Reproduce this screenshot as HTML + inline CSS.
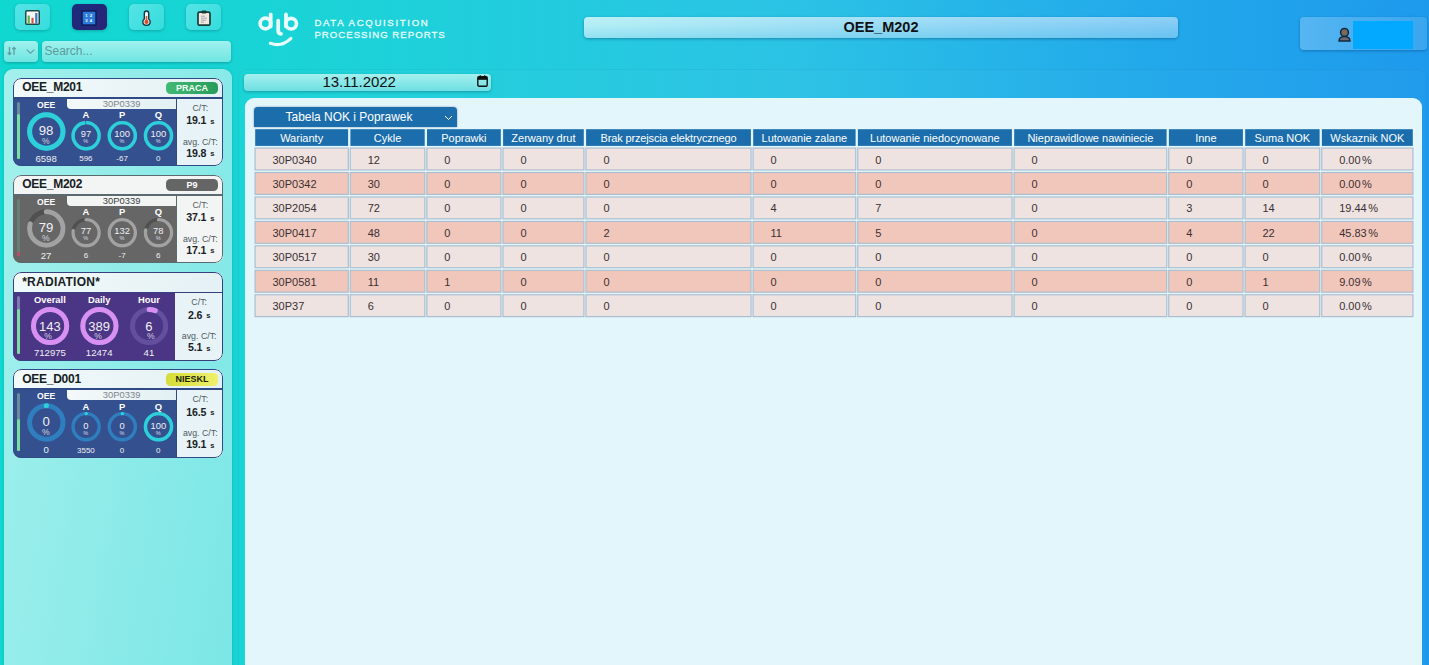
<!DOCTYPE html>
<html><head><meta charset="utf-8"><title>OEE</title>
<style>
*{box-sizing:border-box;margin:0;padding:0}
html,body{width:1429px;height:665px;overflow:hidden}
body{font-family:"Liberation Sans",sans-serif;position:relative;background:linear-gradient(90deg,#10d8d0 0%,#1cd2d8 25%,#2bc3e5 55%,#22a9ea 80%,#1e9aec 100%);color:#222}
.abs{position:absolute}
.btn{position:absolute;top:4px;width:34.6px;height:25.8px;border-radius:5px;background:linear-gradient(135deg,#56e4e6,#35dcdc);box-shadow:0 1px 3px rgba(0,80,90,.35)}
.btn.act{background:linear-gradient(135deg,#1a2c7c,#2b2476)}
.btn svg{position:absolute}
.inp{position:absolute;border-radius:4px;background:linear-gradient(180deg,#a0f1ee,#6fe6e2);box-shadow:0 1px 3px rgba(0,80,90,.4)}
.card{position:absolute;left:12.8px;width:210.5px;height:88.6px;border-radius:8px;overflow:hidden;background:linear-gradient(90deg,#f2f9fa,#e4f1f4)}
.card .bdr{position:absolute;left:0;top:0;width:100%;height:100%;border:1.8px solid #2f4a85;border-radius:8px}
.card .sep{position:absolute;left:0;top:19.2px;width:100%;height:1.8px;background:#2f4a85}
.card .nm{position:absolute;left:9.4px;top:1.8px;font-weight:bold;font-size:12px;line-height:16px;color:#162124;letter-spacing:-0.25px;white-space:nowrap}
.card .st{position:absolute;left:153.3px;top:4.1px;width:52px;height:12.5px;border-radius:4.5px;color:#fff;font-weight:bold;font-size:9px;line-height:13.4px;text-align:center;letter-spacing:0}
.card .bd{position:absolute;left:0;top:19.2px;width:165px;height:69.4px}
.card .rt{position:absolute;left:163.5px;top:19.2px;width:47px;height:69.4px;border-left:1.8px solid #2f4a85;background:#e7f3f6}
.lb{position:absolute;color:#fff;font-weight:bold;text-align:center;transform:translate(-50%,-50%);white-space:nowrap;line-height:1}
.ct{position:absolute;color:#f0f0f4;text-align:center;transform:translate(-50%,-50%);white-space:nowrap;line-height:1}
.var{position:absolute;left:54.2px;top:21px;width:109.3px;height:10.3px;background:linear-gradient(90deg,#f4f9fa,#e3f0f3);border-radius:0 0 0 4px;color:#808488;font-size:9.4px;line-height:10.6px;text-align:center}
.rt .k{position:absolute;left:0;width:100%;font-size:8.8px;color:#505a62;line-height:1;text-align:center;transform:translateY(-50%);white-space:nowrap}
.rt .v{position:absolute;left:0;width:100%;font-size:10.6px;font-weight:bold;color:#1a2125;line-height:1;text-align:center;transform:translateY(-50%);white-space:nowrap;letter-spacing:-.1px}
.rt .v small{font-size:7.5px;margin-left:4px;position:relative;top:-.3px}
.th{position:absolute;top:129.2px;height:16.7px;color:#fff;font-size:11px;line-height:18.2px;text-align:center;white-space:nowrap}
.td{word-spacing:-1.6px;position:absolute;height:23px;font-size:11px;line-height:25.2px;padding-left:18px;color:#3a3033;white-space:nowrap}
</style></head><body>

<div class="btn" style="left:15px"><svg style="left:10px;top:6px" width="15" height="15" viewBox="0 0 15 15"><rect x=".75" y=".75" width="13.5" height="13.5" rx="1" fill="#fbfbfb" stroke="#1d4a44" stroke-width="1.5"/><rect x="2.6" y="5.5" width="2.2" height="8" fill="#58b04a"/><rect x="6.4" y="7.8" width="2.2" height="5.7" fill="#d8553a"/><rect x="10.2" y="3" width="2.2" height="10.5" fill="#3c78c8"/></svg></div>
<div class="btn act" style="left:72px"><svg style="left:9px;top:6px" width="16" height="16" viewBox="0 0 16 16"><rect x=".9" y=".9" width="14.2" height="14.2" rx="1" fill="#2b7bd8" stroke="#0f1f60" stroke-width="1.8"/><g fill="#fff" font-family='"Liberation Sans",sans-serif' font-weight="bold" font-size="4.2"><text x="4.2" y="7">1</text><text x="8.8" y="7">2</text><text x="4.2" y="12.3">3</text><text x="8.8" y="12.3">4</text></g></svg></div>
<div class="btn" style="left:129px"><svg style="left:13px;top:5.5px" width="9" height="16" viewBox="0 0 9 16"><path d="M4.5 1 C3 1 2.3 2 2.3 3.2 L2.3 9 C1.3 9.8 .8 10.8 .8 11.8 C.8 13.9 2.4 15.3 4.5 15.3 C6.6 15.3 8.2 13.9 8.2 11.8 C8.2 10.8 7.7 9.8 6.7 9 L6.7 3.2 C6.7 2 6 1 4.5 1 Z" fill="#f3f6f8" stroke="#123c46" stroke-width="1.4"/><rect x="3.7" y="6" width="1.6" height="6" fill="#d94f2c"/><circle cx="4.5" cy="11.9" r="2.1" fill="#d94f2c"/></svg></div>
<div class="btn" style="left:186px"><svg style="left:10.5px;top:5.5px" width="14" height="16" viewBox="0 0 14 16"><rect x="1" y="2.2" width="12" height="13" rx="1.5" fill="#f3e8de" stroke="#183c38" stroke-width="1.7"/><rect x="4.5" y=".6" width="5" height="2.8" rx="1" fill="#183c38"/><g stroke="#9aa2b4" stroke-width=".9"><line x1="4" y1="6.2" x2="8" y2="6.2"/><line x1="4" y1="8.2" x2="10" y2="8.2"/><line x1="4" y1="10.2" x2="9" y2="10.2"/><line x1="4" y1="12.2" x2="7" y2="12.2"/></g></svg></div>
<div class="inp" style="left:4px;top:41px;width:34px;height:21px"><svg class="abs" style="left:3px;top:5px" width="10" height="10" viewBox="0 0 10 10" fill="none" stroke="#5f9ea0" stroke-width="1.3"><path d="M2.5 1 V8.5 M.8 6.8 L2.5 8.6 L4.2 6.8"/><path d="M7 9 V1.5 M5.3 3.2 L7 1.4 L8.7 3.2"/></svg><svg class="abs" style="left:21.5px;top:8px" width="9" height="5" viewBox="0 0 9 5" fill="none" stroke="#5f9ea0" stroke-width="1.1"><path d="M.7 .7 L4.5 4.2 L8.3 .7"/></svg></div>
<div class="inp" style="left:42px;top:41px;width:189px;height:21px;color:#5d9a9c;font-size:12px;line-height:21px;padding-left:2.5px">Search...</div>
<svg class="abs" style="left:250px;top:5px" width="60" height="50" viewBox="250 5 60 50" fill="none" stroke="#e9fdfd" stroke-width="3.7" stroke-linecap="round"><circle cx="265.4" cy="23.5" r="5.3"/><path d="M270.7 14.3 V26.5"/><path d="M278.2 20.5 V30.5 Q278.2 33.6 281 33.8"/><path d="M286 14.3 V26.5"/><circle cx="291.2" cy="23.7" r="5.3"/><path d="M270.3 43.3 Q281.5 47.6 291 38.4" stroke-width="3.1"/></svg>
<div class="abs" style="left:314.4px;top:17.3px;color:#e6fcfc;-webkit-text-stroke:.3px #e6fcfc;font-size:9.6px;line-height:11.4px;letter-spacing:1.68px;white-space:nowrap">DATA ACQUISITION<br><span style="letter-spacing:1.03px">PROCESSING REPORTS</span></div>
<div class="abs" style="left:584.2px;top:17px;width:593.6px;height:21px;border-radius:4px;background:linear-gradient(180deg,rgba(255,255,255,.13) 0%,rgba(255,255,255,0) 40%,rgba(10,170,225,.2) 100%),linear-gradient(90deg,#b3eef5,#7fc9f5);box-shadow:0 1px 3px rgba(0,60,100,.45);text-align:center;font-weight:bold;font-size:14.5px;line-height:20px;color:#111">OEE_M202</div>
<div class="abs" style="left:1300px;top:17px;width:127px;height:33px;border-radius:4px;background:linear-gradient(90deg,#56b6f2,#3ba6ee);box-shadow:0 1px 3px rgba(0,50,110,.4)"><div class="abs" style="left:53px;top:4px;width:60px;height:28px;background:#02a9fe"></div><svg class="abs" style="left:38px;top:10px" width="13" height="15" viewBox="0 0 13 15"><path d="M1 14 C1 10.5 3 9.6 6.5 9.6 C10 9.6 12 10.5 12 14 Z" fill="#6e6a70" stroke="#12283e" stroke-width="1.4"/><circle cx="6.5" cy="5.4" r="3.9" fill="#7a6a5e" stroke="#12283e" stroke-width="1.5"/></svg></div>
<div class="abs" style="left:4px;top:69px;width:228px;height:610px;border-radius:9px;background:linear-gradient(100deg,#a3f0ec,#7be7e6);box-shadow:0 0 3px rgba(0,90,100,.25)"></div>
<div class="card" style="top:77.7px"><div class="nm" style="letter-spacing:-0.25px">OEE_M201</div><div class="st" style="background:linear-gradient(90deg,#41ba75,#289b59);color:#f2fff4">PRACA</div><div class="bd" style="background:#35508e"></div><div class="abs" style="left:4.3px;top:24px;width:3.1px;height:57.6px;border-radius:1.5px;background:#6b8a9e"></div><div class="abs" style="left:4.3px;top:36.5px;width:3.1px;height:45.1px;border-radius:1.5px;background:#78e09c"></div><div class="var" style="color:#808488">30P0339</div><svg class="abs" style="left:0;top:0" width="211" height="89" viewBox="0 0 211 89"><circle cx="33.3" cy="53.5" r="16.7" fill="none" stroke="#2f7fc0" stroke-width="5"/><circle cx="33.3" cy="53.5" r="16.7" fill="none" stroke="#2dd0d8" stroke-width="5"/><circle cx="73.1" cy="57.7" r="13.05" fill="none" stroke="#2f7fc0" stroke-width="3.4"/><circle cx="73.1" cy="57.7" r="13.05" fill="none" stroke="#2dd0d8" stroke-width="3.4" stroke-linecap="butt" stroke-dasharray="80.52 82.00" transform="rotate(-90 73.1 57.7)"/><circle cx="109.3" cy="57.7" r="13.05" fill="none" stroke="#2f7fc0" stroke-width="3.4"/><circle cx="109.3" cy="57.7" r="13.05" fill="none" stroke="#2dd0d8" stroke-width="3.4"/><circle cx="145.5" cy="57.7" r="13.05" fill="none" stroke="#2f7fc0" stroke-width="3.4"/><circle cx="145.5" cy="57.7" r="13.05" fill="none" stroke="#2dd0d8" stroke-width="3.4"/></svg><div class="lb" style="left:33.3px;top:27px;font-size:8.6px">OEE</div><div class="ct" style="left:33.3px;top:53.3px;font-size:13.2px">98</div><div class="ct" style="left:33.0px;top:62.9px;font-size:8.6px;color:#cfd2dc">%</div><div class="ct" style="left:33.3px;top:80.9px;font-size:9.6px">6598</div><div class="lb" style="left:73.1px;top:37.7px;font-size:9.4px">A</div><div class="ct" style="left:73.1px;top:56.5px;font-size:9.4px">97</div><div class="ct" style="left:72.89999999999999px;top:64.4px;font-size:5.5px;color:#d8dbe4">%</div><div class="ct" style="left:73.1px;top:81.5px;font-size:8px">596</div><div class="lb" style="left:109.3px;top:37.7px;font-size:9.4px">P</div><div class="ct" style="left:109.3px;top:56.5px;font-size:9.4px">100</div><div class="ct" style="left:109.1px;top:64.4px;font-size:5.5px;color:#d8dbe4">%</div><div class="ct" style="left:109.3px;top:81.5px;font-size:8px">-67</div><div class="lb" style="left:145.5px;top:37.7px;font-size:9.4px">Q</div><div class="ct" style="left:145.5px;top:56.5px;font-size:9.4px">100</div><div class="ct" style="left:145.3px;top:64.4px;font-size:5.5px;color:#d8dbe4">%</div><div class="ct" style="left:145.5px;top:81.5px;font-size:8px">0</div><div class="rt" style="border-left-color:#2f4a85"><div class="k" style="top:10.8px">C/T:</div><div class="v" style="top:23.2px">19.1<small>s</small></div><div class="k" style="top:44.7px">avg. C/T:</div><div class="v" style="top:55.8px">19.8<small>s</small></div></div><div class="sep" style="background:#2f4a85"></div><div class="bdr" style="border-color:#2f4a85"></div></div>
<div class="card" style="top:174.7px;background:#f3f4f4"><div class="nm" style="letter-spacing:-0.25px">OEE_M202</div><div class="st" style="background:#656565;color:#fff">P9</div><div class="bd" style="background:#666666"></div><div class="abs" style="left:4.3px;top:24px;width:3.1px;height:57.6px;border-radius:1.5px;background:#667f75"></div><div class="abs" style="left:4.3px;top:24px;width:3.1px;height:57.6px;border-radius:1.5px;background:#667f75"></div><div class="abs" style="left:4.1px;top:77.8px;width:3.6px;height:3.6px;border-radius:1.8px;background:#c8456a"></div><div class="var" style="color:#3c3c3c;background:#f3f4f4">30P0339</div><svg class="abs" style="left:0;top:0" width="211" height="89" viewBox="0 0 211 89"><circle cx="33.3" cy="53.5" r="16.7" fill="none" stroke="#505050" stroke-width="5"/><circle cx="33.3" cy="53.5" r="16.7" fill="none" stroke="#a2a2a2" stroke-width="5" stroke-linecap="round" stroke-dasharray="82.89 104.93" transform="rotate(-90 33.3 53.5)"/><circle cx="73.1" cy="57.7" r="13.05" fill="none" stroke="#505050" stroke-width="3.4"/><circle cx="73.1" cy="57.7" r="13.05" fill="none" stroke="#a2a2a2" stroke-width="3.4" stroke-linecap="round" stroke-dasharray="63.14 82.00" transform="rotate(-90 73.1 57.7)"/><circle cx="109.3" cy="57.7" r="13.05" fill="none" stroke="#505050" stroke-width="3.4"/><circle cx="109.3" cy="57.7" r="13.05" fill="none" stroke="#a2a2a2" stroke-width="3.4"/><circle cx="145.5" cy="57.7" r="13.05" fill="none" stroke="#505050" stroke-width="3.4"/><circle cx="145.5" cy="57.7" r="13.05" fill="none" stroke="#a2a2a2" stroke-width="3.4" stroke-linecap="round" stroke-dasharray="63.96 82.00" transform="rotate(-90 145.5 57.7)"/></svg><div class="lb" style="left:33.3px;top:27px;font-size:8.6px">OEE</div><div class="ct" style="left:33.3px;top:53.3px;font-size:13.2px">79</div><div class="ct" style="left:33.0px;top:62.9px;font-size:8.6px;color:#cfd2dc">%</div><div class="ct" style="left:33.3px;top:80.9px;font-size:9.6px">27</div><div class="lb" style="left:73.1px;top:37.7px;font-size:9.4px">A</div><div class="ct" style="left:73.1px;top:56.5px;font-size:9.4px">77</div><div class="ct" style="left:72.89999999999999px;top:64.4px;font-size:5.5px;color:#d8dbe4">%</div><div class="ct" style="left:73.1px;top:81.5px;font-size:8px">6</div><div class="lb" style="left:109.3px;top:37.7px;font-size:9.4px">P</div><div class="ct" style="left:109.3px;top:56.5px;font-size:9.4px">132</div><div class="ct" style="left:109.1px;top:64.4px;font-size:5.5px;color:#d8dbe4">%</div><div class="ct" style="left:109.3px;top:81.5px;font-size:8px">-7</div><div class="lb" style="left:145.5px;top:37.7px;font-size:9.4px">Q</div><div class="ct" style="left:145.5px;top:56.5px;font-size:9.4px">78</div><div class="ct" style="left:145.3px;top:64.4px;font-size:5.5px;color:#d8dbe4">%</div><div class="ct" style="left:145.5px;top:81.5px;font-size:8px">6</div><div class="rt" style="border-left-color:#5a6a6e;background:#f3f4f4"><div class="k" style="top:10.8px">C/T:</div><div class="v" style="top:23.2px">37.1<small>s</small></div><div class="k" style="top:44.7px">avg. C/T:</div><div class="v" style="top:55.8px">17.1<small>s</small></div></div><div class="sep" style="background:#5a6a6e"></div><div class="bdr" style="border-color:#5a6a6e"></div></div>
<div class="card" style="top:272px"><div class="nm" style="letter-spacing:0.26px">*RADIATION*</div><div class="bd" style="background:#4b3585;top:19.5px"></div><div class="abs" style="left:4.3px;top:24px;width:3.1px;height:57.6px;border-radius:1.5px;background:#7d7ab0"></div><div class="abs" style="left:4.3px;top:36.5px;width:3.1px;height:45.1px;border-radius:1.5px;background:#78e09c"></div><svg class="abs" style="left:0;top:0" width="211" height="89" viewBox="0 0 211 89"><circle cx="37.1" cy="54" r="16.6" fill="none" stroke="#62509f" stroke-width="5"/><circle cx="37.1" cy="54" r="16.6" fill="none" stroke="#d891f3" stroke-width="5"/><circle cx="86.4" cy="54" r="16.6" fill="none" stroke="#62509f" stroke-width="5"/><circle cx="86.4" cy="54" r="16.6" fill="none" stroke="#d891f3" stroke-width="5"/><circle cx="136.1" cy="54" r="16.6" fill="none" stroke="#62509f" stroke-width="5"/><circle cx="136.1" cy="54" r="16.6" fill="none" stroke="#d891f3" stroke-width="5" stroke-linecap="round" stroke-dasharray="6.26 104.30" transform="rotate(-90 136.1 54)"/></svg><div class="lb" style="left:37.1px;top:27.8px;font-size:9.4px">Overall</div><div class="ct" style="left:37.1px;top:53.8px;font-size:13px">143</div><div class="ct" style="left:35.300000000000004px;top:63.6px;font-size:8.6px;color:#d3cbe3">%</div><div class="ct" style="left:37.1px;top:81.2px;font-size:9.6px">712975</div><div class="lb" style="left:86.4px;top:27.8px;font-size:9.4px">Daily</div><div class="ct" style="left:86.4px;top:53.8px;font-size:13px">389</div><div class="ct" style="left:85.2px;top:63.6px;font-size:8.6px;color:#d3cbe3">%</div><div class="ct" style="left:86.4px;top:81.2px;font-size:9.6px">12474</div><div class="lb" style="left:136.1px;top:27.8px;font-size:9.4px">Hour</div><div class="ct" style="left:136.1px;top:53.8px;font-size:13px">6</div><div class="ct" style="left:138.1px;top:63.6px;font-size:8.6px;color:#d3cbe3">%</div><div class="ct" style="left:136.1px;top:81.2px;font-size:9.6px">41</div><div class="rt" style="left:162.3px;width:48.2px;border-left:none;top:19.5px"><div class="k" style="top:10.8px">C/T:</div><div class="v" style="top:23.2px">2.6<small>s</small></div><div class="k" style="top:44.7px">avg. C/T:</div><div class="v" style="top:55.8px">5.1<small>s</small></div></div><div class="sep" style="background:#35407e;top:19.5px;height:1.6px"></div><div class="bdr" style="border-color:#35407e"></div></div>
<div class="card" style="top:369.2px"><div class="nm" style="letter-spacing:-0.25px">OEE_D001</div><div class="st" style="background:linear-gradient(90deg,#d5dd38,#f0f06c);color:#20240c">NIESKL</div><div class="bd" style="background:#35508e"></div><div class="abs" style="left:4.3px;top:24px;width:3.1px;height:57.6px;border-radius:1.5px;background:#6b8a9e"></div><div class="abs" style="left:4.3px;top:50px;width:3.1px;height:31.6px;border-radius:1.5px;background:#78e09c"></div><div class="var" style="color:#808488">30P0339</div><svg class="abs" style="left:0;top:0" width="211" height="89" viewBox="0 0 211 89"><circle cx="33.3" cy="53.5" r="16.7" fill="none" stroke="#2f7fc0" stroke-width="5"/><circle cx="33.3" cy="53.5" r="16.7" fill="none" stroke="#2dd0d8" stroke-width="5" stroke-linecap="round" stroke-dasharray="0.21 104.93" transform="rotate(-90 33.3 53.5)"/><circle cx="73.1" cy="57.7" r="13.05" fill="none" stroke="#2f7fc0" stroke-width="3.4"/><circle cx="73.1" cy="57.7" r="13.05" fill="none" stroke="#2dd0d8" stroke-width="3.4" stroke-linecap="round" stroke-dasharray="0.16 82.00" transform="rotate(-90 73.1 57.7)"/><circle cx="109.3" cy="57.7" r="13.05" fill="none" stroke="#2f7fc0" stroke-width="3.4"/><circle cx="109.3" cy="57.7" r="13.05" fill="none" stroke="#2dd0d8" stroke-width="3.4" stroke-linecap="round" stroke-dasharray="0.16 82.00" transform="rotate(-90 109.3 57.7)"/><circle cx="145.5" cy="57.7" r="13.05" fill="none" stroke="#2f7fc0" stroke-width="3.4"/><circle cx="145.5" cy="57.7" r="13.05" fill="none" stroke="#2dd0d8" stroke-width="3.4"/></svg><div class="lb" style="left:33.3px;top:27px;font-size:8.6px">OEE</div><div class="ct" style="left:33.3px;top:53.3px;font-size:13.2px">0</div><div class="ct" style="left:33.0px;top:62.9px;font-size:8.6px;color:#cfd2dc">%</div><div class="ct" style="left:33.3px;top:80.9px;font-size:9.6px">0</div><div class="lb" style="left:73.1px;top:37.7px;font-size:9.4px">A</div><div class="ct" style="left:73.1px;top:56.5px;font-size:9.4px">0</div><div class="ct" style="left:72.89999999999999px;top:64.4px;font-size:5.5px;color:#d8dbe4">%</div><div class="ct" style="left:73.1px;top:81.5px;font-size:8px">3550</div><div class="lb" style="left:109.3px;top:37.7px;font-size:9.4px">P</div><div class="ct" style="left:109.3px;top:56.5px;font-size:9.4px">0</div><div class="ct" style="left:109.1px;top:64.4px;font-size:5.5px;color:#d8dbe4">%</div><div class="ct" style="left:109.3px;top:81.5px;font-size:8px">0</div><div class="lb" style="left:145.5px;top:37.7px;font-size:9.4px">Q</div><div class="ct" style="left:145.5px;top:56.5px;font-size:9.4px">100</div><div class="ct" style="left:145.3px;top:64.4px;font-size:5.5px;color:#d8dbe4">%</div><div class="ct" style="left:145.5px;top:81.5px;font-size:8px">0</div><div class="rt" style="border-left-color:#2f4a85"><div class="k" style="top:10.8px">C/T:</div><div class="v" style="top:23.2px">16.5<small>s</small></div><div class="k" style="top:44.7px">avg. C/T:</div><div class="v" style="top:55.8px">19.1<small>s</small></div></div><div class="sep" style="background:#2f4a85"></div><div class="bdr" style="border-color:#2f4a85"></div></div>
<div class="abs" style="left:238px;top:68.5px;width:1188.5px;height:620px;border-radius:9px;border:1px solid rgba(0,70,120,.07);background:rgba(255,255,255,.015)"></div>
<div class="inp" style="left:244.3px;top:74px;width:246.7px;height:17px;background:linear-gradient(180deg,#a4f0ee,#6edfe3);text-align:center;font-size:15px;line-height:16px;color:#111;padding-right:17px;letter-spacing:-.05px">13.11.2022<svg class="abs" style="left:232.7px;top:1.4px" width="11" height="12" viewBox="0 0 11 12"><rect x=".8" y="1.8" width="9.4" height="9.4" rx="1.2" fill="none" stroke="#111" stroke-width="1.4"/><rect x=".8" y="1.8" width="9.4" height="3" fill="#111"/><rect x="2.6" y=".3" width="1.3" height="2.2" fill="#111"/><rect x="7.1" y=".3" width="1.3" height="2.2" fill="#111"/></svg></div>
<div class="abs" style="left:245px;top:98px;width:1177px;height:580px;border-radius:9px;background:#e3f6fb"></div>
<div class="abs" style="left:253.5px;top:106.5px;width:203px;height:20.5px;border-radius:4px 4px 0 0;background:#1b6eab;color:#fff;font-size:13px;line-height:20px;text-align:center;padding-right:12px;box-shadow:0 0 2px rgba(0,40,90,.5)"><span style="display:inline-block;transform:scaleX(.92)">Tabela NOK i Poprawek</span><svg class="abs" style="left:190px;top:8px" width="9" height="6" viewBox="0 0 9 6" fill="none" stroke="#fff" stroke-width="1"><path d="M1 1 L4.5 4.5 L8 1"/></svg></div>
<svg class="abs" style="left:250px;top:125px" width="1170" height="200" viewBox="250 125 1170 200"><rect x="255.20" y="129.2" width="92.90" height="16.70" fill="#1b6eab"/><rect x="350.40" y="129.2" width="74.30" height="16.70" fill="#1b6eab"/><rect x="427.00" y="129.2" width="73.80" height="16.70" fill="#1b6eab"/><rect x="503.10" y="129.2" width="80.70" height="16.70" fill="#1b6eab"/><rect x="586.10" y="129.2" width="164.80" height="16.70" fill="#1b6eab"/><rect x="753.20" y="129.2" width="102.40" height="16.70" fill="#1b6eab"/><rect x="857.90" y="129.2" width="154.00" height="16.70" fill="#1b6eab"/><rect x="1014.20" y="129.2" width="152.40" height="16.70" fill="#1b6eab"/><rect x="1168.90" y="129.2" width="74.00" height="16.70" fill="#1b6eab"/><rect x="1245.20" y="129.2" width="74.40" height="16.70" fill="#1b6eab"/><rect x="1321.90" y="129.2" width="90.90" height="16.70" fill="#1b6eab"/><rect x="255.05" y="148.05" width="93.20" height="21.9" fill="#eee3e1" stroke="#a6bbce" stroke-width="1.1"/><rect x="350.25" y="148.05" width="74.60" height="21.9" fill="#eee3e1" stroke="#a6bbce" stroke-width="1.1"/><rect x="426.85" y="148.05" width="74.10" height="21.9" fill="#eee3e1" stroke="#a6bbce" stroke-width="1.1"/><rect x="502.95" y="148.05" width="81.00" height="21.9" fill="#eee3e1" stroke="#a6bbce" stroke-width="1.1"/><rect x="585.95" y="148.05" width="165.10" height="21.9" fill="#eee3e1" stroke="#a6bbce" stroke-width="1.1"/><rect x="753.05" y="148.05" width="102.70" height="21.9" fill="#eee3e1" stroke="#a6bbce" stroke-width="1.1"/><rect x="857.75" y="148.05" width="154.30" height="21.9" fill="#eee3e1" stroke="#a6bbce" stroke-width="1.1"/><rect x="1014.05" y="148.05" width="152.70" height="21.9" fill="#eee3e1" stroke="#a6bbce" stroke-width="1.1"/><rect x="1168.75" y="148.05" width="74.30" height="21.9" fill="#eee3e1" stroke="#a6bbce" stroke-width="1.1"/><rect x="1245.05" y="148.05" width="74.70" height="21.9" fill="#eee3e1" stroke="#a6bbce" stroke-width="1.1"/><rect x="1321.75" y="148.05" width="91.20" height="21.9" fill="#eee3e1" stroke="#a6bbce" stroke-width="1.1"/><rect x="255.05" y="172.50" width="93.20" height="21.9" fill="#f2c7bb" stroke="#a6bbce" stroke-width="1.1"/><rect x="350.25" y="172.50" width="74.60" height="21.9" fill="#f2c7bb" stroke="#a6bbce" stroke-width="1.1"/><rect x="426.85" y="172.50" width="74.10" height="21.9" fill="#f2c7bb" stroke="#a6bbce" stroke-width="1.1"/><rect x="502.95" y="172.50" width="81.00" height="21.9" fill="#f2c7bb" stroke="#a6bbce" stroke-width="1.1"/><rect x="585.95" y="172.50" width="165.10" height="21.9" fill="#f2c7bb" stroke="#a6bbce" stroke-width="1.1"/><rect x="753.05" y="172.50" width="102.70" height="21.9" fill="#f2c7bb" stroke="#a6bbce" stroke-width="1.1"/><rect x="857.75" y="172.50" width="154.30" height="21.9" fill="#f2c7bb" stroke="#a6bbce" stroke-width="1.1"/><rect x="1014.05" y="172.50" width="152.70" height="21.9" fill="#f2c7bb" stroke="#a6bbce" stroke-width="1.1"/><rect x="1168.75" y="172.50" width="74.30" height="21.9" fill="#f2c7bb" stroke="#a6bbce" stroke-width="1.1"/><rect x="1245.05" y="172.50" width="74.70" height="21.9" fill="#f2c7bb" stroke="#a6bbce" stroke-width="1.1"/><rect x="1321.75" y="172.50" width="91.20" height="21.9" fill="#f2c7bb" stroke="#a6bbce" stroke-width="1.1"/><rect x="255.05" y="196.95" width="93.20" height="21.9" fill="#eee3e1" stroke="#a6bbce" stroke-width="1.1"/><rect x="350.25" y="196.95" width="74.60" height="21.9" fill="#eee3e1" stroke="#a6bbce" stroke-width="1.1"/><rect x="426.85" y="196.95" width="74.10" height="21.9" fill="#eee3e1" stroke="#a6bbce" stroke-width="1.1"/><rect x="502.95" y="196.95" width="81.00" height="21.9" fill="#eee3e1" stroke="#a6bbce" stroke-width="1.1"/><rect x="585.95" y="196.95" width="165.10" height="21.9" fill="#eee3e1" stroke="#a6bbce" stroke-width="1.1"/><rect x="753.05" y="196.95" width="102.70" height="21.9" fill="#eee3e1" stroke="#a6bbce" stroke-width="1.1"/><rect x="857.75" y="196.95" width="154.30" height="21.9" fill="#eee3e1" stroke="#a6bbce" stroke-width="1.1"/><rect x="1014.05" y="196.95" width="152.70" height="21.9" fill="#eee3e1" stroke="#a6bbce" stroke-width="1.1"/><rect x="1168.75" y="196.95" width="74.30" height="21.9" fill="#eee3e1" stroke="#a6bbce" stroke-width="1.1"/><rect x="1245.05" y="196.95" width="74.70" height="21.9" fill="#eee3e1" stroke="#a6bbce" stroke-width="1.1"/><rect x="1321.75" y="196.95" width="91.20" height="21.9" fill="#eee3e1" stroke="#a6bbce" stroke-width="1.1"/><rect x="255.05" y="221.40" width="93.20" height="21.9" fill="#f2c7bb" stroke="#a6bbce" stroke-width="1.1"/><rect x="350.25" y="221.40" width="74.60" height="21.9" fill="#f2c7bb" stroke="#a6bbce" stroke-width="1.1"/><rect x="426.85" y="221.40" width="74.10" height="21.9" fill="#f2c7bb" stroke="#a6bbce" stroke-width="1.1"/><rect x="502.95" y="221.40" width="81.00" height="21.9" fill="#f2c7bb" stroke="#a6bbce" stroke-width="1.1"/><rect x="585.95" y="221.40" width="165.10" height="21.9" fill="#f2c7bb" stroke="#a6bbce" stroke-width="1.1"/><rect x="753.05" y="221.40" width="102.70" height="21.9" fill="#f2c7bb" stroke="#a6bbce" stroke-width="1.1"/><rect x="857.75" y="221.40" width="154.30" height="21.9" fill="#f2c7bb" stroke="#a6bbce" stroke-width="1.1"/><rect x="1014.05" y="221.40" width="152.70" height="21.9" fill="#f2c7bb" stroke="#a6bbce" stroke-width="1.1"/><rect x="1168.75" y="221.40" width="74.30" height="21.9" fill="#f2c7bb" stroke="#a6bbce" stroke-width="1.1"/><rect x="1245.05" y="221.40" width="74.70" height="21.9" fill="#f2c7bb" stroke="#a6bbce" stroke-width="1.1"/><rect x="1321.75" y="221.40" width="91.20" height="21.9" fill="#f2c7bb" stroke="#a6bbce" stroke-width="1.1"/><rect x="255.05" y="245.85" width="93.20" height="21.9" fill="#eee3e1" stroke="#a6bbce" stroke-width="1.1"/><rect x="350.25" y="245.85" width="74.60" height="21.9" fill="#eee3e1" stroke="#a6bbce" stroke-width="1.1"/><rect x="426.85" y="245.85" width="74.10" height="21.9" fill="#eee3e1" stroke="#a6bbce" stroke-width="1.1"/><rect x="502.95" y="245.85" width="81.00" height="21.9" fill="#eee3e1" stroke="#a6bbce" stroke-width="1.1"/><rect x="585.95" y="245.85" width="165.10" height="21.9" fill="#eee3e1" stroke="#a6bbce" stroke-width="1.1"/><rect x="753.05" y="245.85" width="102.70" height="21.9" fill="#eee3e1" stroke="#a6bbce" stroke-width="1.1"/><rect x="857.75" y="245.85" width="154.30" height="21.9" fill="#eee3e1" stroke="#a6bbce" stroke-width="1.1"/><rect x="1014.05" y="245.85" width="152.70" height="21.9" fill="#eee3e1" stroke="#a6bbce" stroke-width="1.1"/><rect x="1168.75" y="245.85" width="74.30" height="21.9" fill="#eee3e1" stroke="#a6bbce" stroke-width="1.1"/><rect x="1245.05" y="245.85" width="74.70" height="21.9" fill="#eee3e1" stroke="#a6bbce" stroke-width="1.1"/><rect x="1321.75" y="245.85" width="91.20" height="21.9" fill="#eee3e1" stroke="#a6bbce" stroke-width="1.1"/><rect x="255.05" y="270.30" width="93.20" height="21.9" fill="#f2c7bb" stroke="#a6bbce" stroke-width="1.1"/><rect x="350.25" y="270.30" width="74.60" height="21.9" fill="#f2c7bb" stroke="#a6bbce" stroke-width="1.1"/><rect x="426.85" y="270.30" width="74.10" height="21.9" fill="#f2c7bb" stroke="#a6bbce" stroke-width="1.1"/><rect x="502.95" y="270.30" width="81.00" height="21.9" fill="#f2c7bb" stroke="#a6bbce" stroke-width="1.1"/><rect x="585.95" y="270.30" width="165.10" height="21.9" fill="#f2c7bb" stroke="#a6bbce" stroke-width="1.1"/><rect x="753.05" y="270.30" width="102.70" height="21.9" fill="#f2c7bb" stroke="#a6bbce" stroke-width="1.1"/><rect x="857.75" y="270.30" width="154.30" height="21.9" fill="#f2c7bb" stroke="#a6bbce" stroke-width="1.1"/><rect x="1014.05" y="270.30" width="152.70" height="21.9" fill="#f2c7bb" stroke="#a6bbce" stroke-width="1.1"/><rect x="1168.75" y="270.30" width="74.30" height="21.9" fill="#f2c7bb" stroke="#a6bbce" stroke-width="1.1"/><rect x="1245.05" y="270.30" width="74.70" height="21.9" fill="#f2c7bb" stroke="#a6bbce" stroke-width="1.1"/><rect x="1321.75" y="270.30" width="91.20" height="21.9" fill="#f2c7bb" stroke="#a6bbce" stroke-width="1.1"/><rect x="255.05" y="294.75" width="93.20" height="21.9" fill="#eee3e1" stroke="#a6bbce" stroke-width="1.1"/><rect x="350.25" y="294.75" width="74.60" height="21.9" fill="#eee3e1" stroke="#a6bbce" stroke-width="1.1"/><rect x="426.85" y="294.75" width="74.10" height="21.9" fill="#eee3e1" stroke="#a6bbce" stroke-width="1.1"/><rect x="502.95" y="294.75" width="81.00" height="21.9" fill="#eee3e1" stroke="#a6bbce" stroke-width="1.1"/><rect x="585.95" y="294.75" width="165.10" height="21.9" fill="#eee3e1" stroke="#a6bbce" stroke-width="1.1"/><rect x="753.05" y="294.75" width="102.70" height="21.9" fill="#eee3e1" stroke="#a6bbce" stroke-width="1.1"/><rect x="857.75" y="294.75" width="154.30" height="21.9" fill="#eee3e1" stroke="#a6bbce" stroke-width="1.1"/><rect x="1014.05" y="294.75" width="152.70" height="21.9" fill="#eee3e1" stroke="#a6bbce" stroke-width="1.1"/><rect x="1168.75" y="294.75" width="74.30" height="21.9" fill="#eee3e1" stroke="#a6bbce" stroke-width="1.1"/><rect x="1245.05" y="294.75" width="74.70" height="21.9" fill="#eee3e1" stroke="#a6bbce" stroke-width="1.1"/><rect x="1321.75" y="294.75" width="91.20" height="21.9" fill="#eee3e1" stroke="#a6bbce" stroke-width="1.1"/></svg>
<div class="th" style="left:254.5px;width:94.3px">Warianty</div>
<div class="th" style="left:349.7px;width:75.7px">Cykle</div>
<div class="th" style="left:426.3px;width:75.2px">Poprawki</div>
<div class="th" style="left:502.4px;width:82.1px">Zerwany drut</div>
<div class="th" style="left:585.4px;width:166.2px;letter-spacing:-.14px">Brak przejscia elektrycznego</div>
<div class="th" style="left:752.5px;width:103.8px">Lutowanie zalane</div>
<div class="th" style="left:857.2px;width:155.4px">Lutowanie niedocynowane</div>
<div class="th" style="left:1013.5px;width:153.8px">Nieprawidlowe nawiniecie</div>
<div class="th" style="left:1168.2px;width:75.4px">Inne</div>
<div class="th" style="left:1244.5px;width:75.8px">Suma NOK</div>
<div class="th" style="left:1321.2px;width:92.3px">Wskaznik NOK</div>
<div class="td" style="left:254.5px;top:147.50px;width:94.3px">30P0340</div>
<div class="td" style="left:349.7px;top:147.50px;width:75.7px">12</div>
<div class="td" style="left:426.3px;top:147.50px;width:75.2px">0</div>
<div class="td" style="left:502.4px;top:147.50px;width:82.1px">0</div>
<div class="td" style="left:585.4px;top:147.50px;width:166.2px">0</div>
<div class="td" style="left:752.5px;top:147.50px;width:103.8px">0</div>
<div class="td" style="left:857.2px;top:147.50px;width:155.4px">0</div>
<div class="td" style="left:1013.5px;top:147.50px;width:153.8px">0</div>
<div class="td" style="left:1168.2px;top:147.50px;width:75.4px">0</div>
<div class="td" style="left:1244.5px;top:147.50px;width:75.8px">0</div>
<div class="td" style="left:1321.2px;top:147.50px;width:92.3px">0.00 %</div>
<div class="td" style="left:254.5px;top:171.95px;width:94.3px">30P0342</div>
<div class="td" style="left:349.7px;top:171.95px;width:75.7px">30</div>
<div class="td" style="left:426.3px;top:171.95px;width:75.2px">0</div>
<div class="td" style="left:502.4px;top:171.95px;width:82.1px">0</div>
<div class="td" style="left:585.4px;top:171.95px;width:166.2px">0</div>
<div class="td" style="left:752.5px;top:171.95px;width:103.8px">0</div>
<div class="td" style="left:857.2px;top:171.95px;width:155.4px">0</div>
<div class="td" style="left:1013.5px;top:171.95px;width:153.8px">0</div>
<div class="td" style="left:1168.2px;top:171.95px;width:75.4px">0</div>
<div class="td" style="left:1244.5px;top:171.95px;width:75.8px">0</div>
<div class="td" style="left:1321.2px;top:171.95px;width:92.3px">0.00 %</div>
<div class="td" style="left:254.5px;top:196.40px;width:94.3px">30P2054</div>
<div class="td" style="left:349.7px;top:196.40px;width:75.7px">72</div>
<div class="td" style="left:426.3px;top:196.40px;width:75.2px">0</div>
<div class="td" style="left:502.4px;top:196.40px;width:82.1px">0</div>
<div class="td" style="left:585.4px;top:196.40px;width:166.2px">0</div>
<div class="td" style="left:752.5px;top:196.40px;width:103.8px">4</div>
<div class="td" style="left:857.2px;top:196.40px;width:155.4px">7</div>
<div class="td" style="left:1013.5px;top:196.40px;width:153.8px">0</div>
<div class="td" style="left:1168.2px;top:196.40px;width:75.4px">3</div>
<div class="td" style="left:1244.5px;top:196.40px;width:75.8px">14</div>
<div class="td" style="left:1321.2px;top:196.40px;width:92.3px">19.44 %</div>
<div class="td" style="left:254.5px;top:220.85px;width:94.3px">30P0417</div>
<div class="td" style="left:349.7px;top:220.85px;width:75.7px">48</div>
<div class="td" style="left:426.3px;top:220.85px;width:75.2px">0</div>
<div class="td" style="left:502.4px;top:220.85px;width:82.1px">0</div>
<div class="td" style="left:585.4px;top:220.85px;width:166.2px">2</div>
<div class="td" style="left:752.5px;top:220.85px;width:103.8px">11</div>
<div class="td" style="left:857.2px;top:220.85px;width:155.4px">5</div>
<div class="td" style="left:1013.5px;top:220.85px;width:153.8px">0</div>
<div class="td" style="left:1168.2px;top:220.85px;width:75.4px">4</div>
<div class="td" style="left:1244.5px;top:220.85px;width:75.8px">22</div>
<div class="td" style="left:1321.2px;top:220.85px;width:92.3px">45.83 %</div>
<div class="td" style="left:254.5px;top:245.30px;width:94.3px">30P0517</div>
<div class="td" style="left:349.7px;top:245.30px;width:75.7px">30</div>
<div class="td" style="left:426.3px;top:245.30px;width:75.2px">0</div>
<div class="td" style="left:502.4px;top:245.30px;width:82.1px">0</div>
<div class="td" style="left:585.4px;top:245.30px;width:166.2px">0</div>
<div class="td" style="left:752.5px;top:245.30px;width:103.8px">0</div>
<div class="td" style="left:857.2px;top:245.30px;width:155.4px">0</div>
<div class="td" style="left:1013.5px;top:245.30px;width:153.8px">0</div>
<div class="td" style="left:1168.2px;top:245.30px;width:75.4px">0</div>
<div class="td" style="left:1244.5px;top:245.30px;width:75.8px">0</div>
<div class="td" style="left:1321.2px;top:245.30px;width:92.3px">0.00 %</div>
<div class="td" style="left:254.5px;top:269.75px;width:94.3px">30P0581</div>
<div class="td" style="left:349.7px;top:269.75px;width:75.7px">11</div>
<div class="td" style="left:426.3px;top:269.75px;width:75.2px">1</div>
<div class="td" style="left:502.4px;top:269.75px;width:82.1px">0</div>
<div class="td" style="left:585.4px;top:269.75px;width:166.2px">0</div>
<div class="td" style="left:752.5px;top:269.75px;width:103.8px">0</div>
<div class="td" style="left:857.2px;top:269.75px;width:155.4px">0</div>
<div class="td" style="left:1013.5px;top:269.75px;width:153.8px">0</div>
<div class="td" style="left:1168.2px;top:269.75px;width:75.4px">0</div>
<div class="td" style="left:1244.5px;top:269.75px;width:75.8px">1</div>
<div class="td" style="left:1321.2px;top:269.75px;width:92.3px">9.09 %</div>
<div class="td" style="left:254.5px;top:294.20px;width:94.3px">30P37</div>
<div class="td" style="left:349.7px;top:294.20px;width:75.7px">6</div>
<div class="td" style="left:426.3px;top:294.20px;width:75.2px">0</div>
<div class="td" style="left:502.4px;top:294.20px;width:82.1px">0</div>
<div class="td" style="left:585.4px;top:294.20px;width:166.2px">0</div>
<div class="td" style="left:752.5px;top:294.20px;width:103.8px">0</div>
<div class="td" style="left:857.2px;top:294.20px;width:155.4px">0</div>
<div class="td" style="left:1013.5px;top:294.20px;width:153.8px">0</div>
<div class="td" style="left:1168.2px;top:294.20px;width:75.4px">0</div>
<div class="td" style="left:1244.5px;top:294.20px;width:75.8px">0</div>
<div class="td" style="left:1321.2px;top:294.20px;width:92.3px">0.00 %</div>
</body></html>
